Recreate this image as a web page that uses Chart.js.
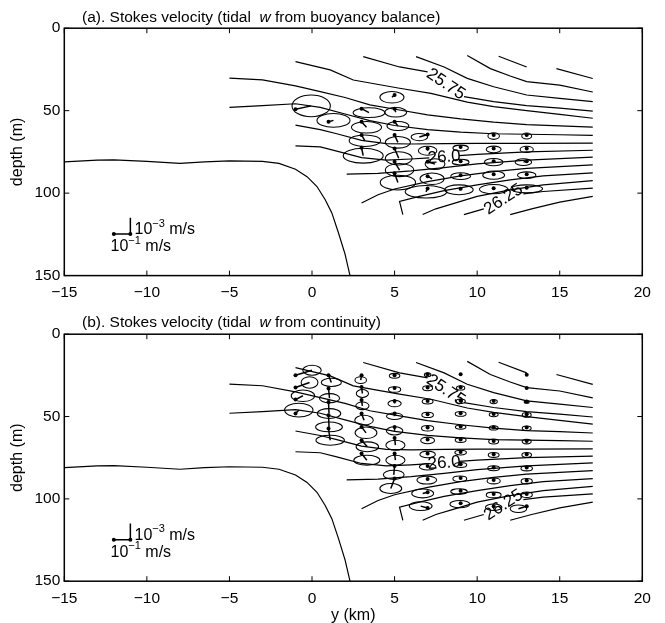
<!DOCTYPE html>
<html>
<head>
<meta charset="utf-8">
<script src="https://cdn.jsdelivr.net/npm/chart.js@4.4.1/dist/chart.umd.min.js"></script>
<style>
  html, body { margin: 0; padding: 0; background: #fff; }
  #wrap { position: relative; width: 665px; height: 623px; }
  canvas { position: absolute; left: 0; }
  #c1 { top: 0; }
  #c2 { top: 306px; }
</style>
</head>
<body>
<div id="wrap">
  <canvas id="c1" width="665" height="306" style="width:665px;height:306px"></canvas>
  <canvas id="c2" width="665" height="317" style="width:665px;height:317px"></canvas>
</div>
<script>
// axes
const xTicks = [-15, -10, -5, 0, 5, 10, 15, 20];
const yTicks = [0, 50, 100, 150];

// isopycnals [km, m]
const c01 = [[11.3, 17], [13, 23.5]];
const c02 = [[14.8, 24.5], [17, 30.5]];
const c03 = [[9.4, 16.5], [10.8, 24.5], [12, 29], [13, 32.4], [15, 34.5], [17, 38.7]];
const c04 = [[6.3, 17.2], [8, 23.5], [9.4, 30.4], [11, 35.5], [13, 40.5], [15, 42.5], [17, 44.5]];
const c05a = [[3.1, 17.2], [5.3, 23.5], [7.0, 26.5]];
const c05b = [[9.2, 41.5], [11, 44.5], [13, 47], [15, 48.5], [17, 50.3]];
const c06 = [[-1, 20.3], [1.1, 25.3], [2.5, 31.4], [5.3, 36.4], [7.2, 39.5], [9.4, 44.8], [11, 47.5], [13, 50], [15, 52.3], [17, 54.6]];
const c07 = [[-5, 30.3], [-3, 31.3], [-1, 35], [0.5, 38.5], [2, 42], [3.5, 46.5], [5.3, 49.6], [7, 52.5], [9, 55], [11, 57], [13, 58.5], [15, 59.2], [17, 60]];
const c08 = [[-5, 48], [-3, 47], [-1, 45.8], [0.5, 48], [2, 52], [3.5, 56], [5, 59], [7, 61.5], [9, 63], [11, 64], [13, 64.3], [15, 64.6], [17, 65]];
const c09 = [[-1, 58.8], [0.5, 61.5], [1.5, 64], [3, 68], [4.5, 70], [6, 70.2], [8, 70], [10, 69.8], [13, 69.8], [17, 69.7]];
const c10a = [[-1, 71.4], [0.5, 72], [1.5, 74.5], [3, 78.5], [4.5, 80], [6, 79.3], [7.1, 78.6]];
const c10b = [[8.9, 77.2], [10, 76.5], [13, 75], [17, 74]];
const c11 = [[2.1, 88.5], [4, 88], [6, 86.5], [8, 84.5], [10, 82.3], [13, 80], [17, 78.2]];
const c12 = [[3, 106], [4, 101], [5, 97.5], [7, 93], [9, 89.5], [11, 87], [13, 85], [17, 82.9]];
const c13 = [[5.5, 113], [5.3, 105], [6.5, 102], [8, 98.5], [10, 95], [12, 92], [14, 89.5], [17, 87.7]];
const c14 = [[6.7, 113], [7.5, 109.5], [8.5, 106.5], [10, 102], [12, 98], [14, 95], [17, 92.4]];
const c15a = [[9.2, 113], [10.4, 109.5]];
const c15b = [[12.8, 100.5], [14, 99], [17, 97]];
const c16 = [[12, 113], [13.3, 109.5], [15, 105.5], [17, 102]];
const contours = [c01, c02, c03, c04, c05a, c05b, c06, c07, c08, c09, c10a, c10b, c11, c12, c13, c14, c15a, c15b, c16];

// bottom topography
const bathy = [[-15, 81], [-13, 80], [-12, 79.8], [-10, 80.8], [-8, 82], [-6.5, 81], [-5, 80.5], [-3, 80.8], [-2, 82], [-1, 85.5],
  [-0.3, 90], [0.3, 96], [0.8, 104], [1.2, 112], [1.6, 124], [2, 137], [2.3, 150]];

// contour labels
const labTxt = ['25.75', '26.0', '26.25'];
const labKm = [8.1, 8.0, 11.6];
const labDepth = [34.0, 78.3, 103.8];
const labAngle = [34, -4, -33];

// scale bar: 1 km = 1e-1 m/s, 10 m = 1e-3 m/s
const barKm = [-12, -11];
const barDepth = [124.8, 115];

// (a) stations: dot km, dot depth, stick dx, stick dz, ellipse semi-axes
const aX = [-1, 1, 3, 3, 3, 3, 5, 5, 5, 5, 5, 5, 5, 7, 7, 7, 7, 7, 9, 9, 9, 9, 11, 11, 11, 11, 11, 13, 13, 13, 13, 13];
const aD = [49.2, 56.7, 48.8, 56.7, 64.8, 72.5, 40.5, 48.8, 56.7, 64.8, 72.9, 81.0, 88.0, 64.4, 72.9, 81.0, 89.7, 97.2,
  72.1, 80.6, 89.1, 97.4, 64.8, 72.9, 80.6, 88.5, 97.0, 64.8, 72.9, 80.6, 88.5, 96.8];
const aU = [0.95, 0.3, 0.45, 0.3, 0.2, 0.1, -0.16, 0.07, 0.2, 0.2, 0.25, 0.3, 0.2, -0.5, 0, 0.45, 0.27, -0.1,
  0, 0, 0, -0.1, 0, 0, 0, 0, 0, 0, 0, -0.2, 0, 0];
const aW = [-2.1, -0.8, 2.4, 3.4, 3.4, 4.8, 1.4, 2.2, 2.6, 4.4, 6.0, 5.0, 5.6, 1.6, 1.4, 1.4, 1.6, 2.0,
  0.6, 0.6, 0.6, 0.6, 0.6, 0.6, 0.6, 0.6, 0.6, 0.6, 0.6, 0.6, 0.6, 0.6];
const aRx = [1.16, 1.0, 0.96, 0.91, 0.95, 1.21, 0.73, 0.66, 0.66, 0.76, 0.81, 0.86, 1.07, 0.5, 0.56, 0.6, 0.73, 1.26,
  0.47, 0.51, 0.6, 0.86, 0.35, 0.45, 0.56, 0.66, 0.86, 0.3, 0.4, 0.5, 0.56, 0.96];
const aRy = [6.6, 4.2, 3.0, 3.5, 3.5, 4.5, 3.5, 2.9, 2.7, 3.5, 4.0, 4.0, 4.5, 2.2, 2.7, 3.3, 3.5, 3.8,
  1.8, 1.7, 2.0, 3.0, 2.0, 2.0, 2.2, 2.5, 2.8, 1.8, 1.9, 2.0, 2.0, 2.4];

// (b) stations
const bX = [-1, -1, -1, -1, 1, 1, 1, 1, 1, 3, 3, 3, 3, 3, 3, 3, 5, 5, 5, 5, 5, 5, 5, 5, 5,
  7, 7, 7, 7, 7, 7, 7, 7, 7, 7, 7, 9, 9, 9, 9, 9, 9, 9, 9, 9, 9, 9,
  11, 11, 11, 11, 11, 11, 11, 11, 11, 13, 13, 13, 13, 13, 13, 13, 13, 13, 13, 13];
const bD = [24.9, 32.4, 39.7, 48.2, 24.9, 33.0, 41.1, 49.2, 57.3, 24.9, 32.0, 40.0, 48.2, 56.3, 64.4, 72.5,
  24.9, 32.6, 40.5, 48.2, 56.3, 63.0, 72.5, 80.0, 87.6,
  24.3, 32.4, 40.5, 48.6, 56.7, 64.0, 72.5, 80.0, 88.0, 96.0, 105.5,
  24.3, 32.2, 40.3, 48.0, 56.0, 63.9, 71.5, 79.0, 87.3, 95.0, 102.6,
  40.5, 48.4, 56.5, 64.8, 72.9, 81.0, 88.6, 97.1, 104.5,
  24.6, 32.7, 40.8, 48.6, 56.7, 64.8, 72.9, 81.0, 88.8, 97.0, 104.5];
const bU = [1.0, 0.85, 0.45, 0.2, 0.17, 0.06, 0.03, 0.03, 0.1, -0.05, 0.05, 0.05, 0.15, 0.27, 0.35, 0.32,
  0, 0, 0, 0, 0, 0.05, 0.05, -0.05, -0.23,
  0, 0, 0, 0, 0, 0, 0, 0, -0.05, -0.3, -0.42,
  0, 0, 0, 0, 0, 0, 0, 0, -0.05, -0.1, -0.05,
  0, 0, 0, 0, 0, 0, 0, 0, 0,
  0, 0, 0, 0, 0, 0, 0, 0, 0, 0, -0.5];
const bW = [-3.0, -3.1, -2.3, -2.1, 4.4, 5.9, 7.1, 7.1, 7.1, 3.0, 4.0, 3.5, 4.0, 3.6, 4.0, 4.0,
  0.4, 1.0, 1.6, 1.6, 2.4, 4.4, 4.0, 5.4, 6.1,
  0.4, 0.4, 0.4, 0.4, 0.4, 0.5, 0.5, 0.5, 0.6, 0.7, -1.1,
  0, 0.4, 0.4, 0.4, 0.4, 0.4, 0.4, 0.4, 0.5, 0.6, 0.6,
  0.4, 0.4, 0.4, 0.4, 0.4, 0.4, 0.5, 0.5, 0.6,
  0, 0, 0.3, 0.4, 0.4, 0.4, 0.4, 0.5, 0.5, 0.5, 1.5];
const bRx = [0.56, 0.51, 0.71, 0.86, 0.61, 0.61, 0.71, 0.81, 0.86, 0.35, 0.37, 0.4, 0.56, 0.66, 0.68, 0.79,
  0.32, 0.37, 0.4, 0.49, 0.5, 0.58, 0.58, 0.63, 0.66,
  0.2, 0.3, 0.33, 0.35, 0.37, 0.42, 0.47, 0.5, 0.6, 0.66, 0.69,
  0, 0.25, 0.28, 0.33, 0.32, 0.33, 0.35, 0.37, 0.42, 0.5, 0.6,
  0.22, 0.27, 0.27, 0.3, 0.33, 0.36, 0.4, 0.45, 0.5,
  0, 0, 0.15, 0.27, 0.27, 0.27, 0.29, 0.35, 0.34, 0.34, 0.5];
const bRy = [3.0, 3.5, 3.5, 4.2, 2.5, 2.8, 3.0, 3.0, 3.0, 2.0, 2.4, 2.3, 3.0, 3.5, 3.0, 3.0,
  1.5, 1.7, 2.0, 2.0, 2.5, 3.0, 3.0, 2.8, 3.0,
  1.2, 1.5, 1.5, 1.6, 1.7, 2.0, 2.0, 2.0, 2.4, 2.7, 2.7,
  0, 1.3, 1.3, 1.4, 1.3, 1.5, 1.4, 1.5, 1.7, 1.7, 2.2,
  1.3, 1.3, 1.3, 1.5, 1.5, 1.5, 1.8, 1.7, 2.0,
  0, 0, 0.8, 1.4, 1.4, 1.4, 1.4, 1.5, 1.7, 1.7, 2.3];

const FONT = '"Liberation Sans", Arial, Helvetica, sans-serif';
const minus = v => String(v).replace('-', '\u2212');

function runs(ctx, parts, x, y) {
  parts.forEach(p => {
    ctx.font = p[1];
    ctx.fillText(p[0], x, y + (p[2] || 0));
    x += ctx.measureText(p[0]).width;
  });
}

const figPlugin = {
  id: 'fig',
  afterDraw(chart, args, o) {
    const ctx = chart.ctx, a = chart.chartArea;
    const sx = chart.scales.x, sy = chart.scales.y;
    const X = v => sx.getPixelForValue(v), Y = v => sy.getPixelForValue(v);
    ctx.save();
    ctx.strokeStyle = '#000';
    ctx.fillStyle = '#000';

    // ellipses + sticks
    const s = o.st;
    for (let i = 0; i < s.x.length; i++) {
      const cx = X(s.x[i] + s.u[i]), cy = Y(s.d[i] + s.w[i]);
      const rx = X(s.rx[i]) - X(0), ry = Y(s.ry[i]) - Y(0);
      ctx.lineWidth = 1.05;
      if (rx > 0 && ry > 0) {
        ctx.beginPath();
        ctx.ellipse(cx, cy, rx, ry, 0, 0, 2 * Math.PI);
        ctx.stroke();
      }
      const dx = X(s.x[i]), dy = Y(s.d[i]);
      ctx.lineWidth = 1.5;
      ctx.beginPath(); ctx.moveTo(dx, dy); ctx.lineTo(cx, cy); ctx.stroke();
      ctx.beginPath(); ctx.arc(dx, dy, 2, 0, 2 * Math.PI); ctx.fill();
    }

    // contour labels
    ctx.font = '17px ' + FONT;
    ctx.textAlign = 'center';
    ctx.textBaseline = 'middle';
    labTxt.forEach((t, i) => {
      ctx.save();
      ctx.translate(X(labKm[i]), Y(labDepth[i]));
      ctx.rotate(labAngle[i] * Math.PI / 180);
      ctx.fillText(t, 0, 0);
      ctx.restore();
    });

    // scale bar
    ctx.lineWidth = 1.5;
    ctx.beginPath();
    ctx.moveTo(X(barKm[0]), Y(barDepth[0]));
    ctx.lineTo(X(barKm[1]), Y(barDepth[0]));
    ctx.lineTo(X(barKm[1]), Y(barDepth[1]));
    ctx.stroke();
    barKm.forEach(k => { ctx.beginPath(); ctx.arc(X(k), Y(barDepth[0]), 2, 0, 2 * Math.PI); ctx.fill(); });
    ctx.textAlign = 'left';
    const f16 = '16px ' + FONT, f11 = '11px ' + FONT;
    runs(ctx, [['10', f16], ['\u22123', f11, -6], [' m/s', f16]], X(-10.75), Y(122.2));
    runs(ctx, [['10', f16], ['\u22121', f11, -6], [' m/s', f16]], X(-12.2), Y(132.4));

    // frame and inward ticks
    ctx.lineWidth = 1.5;
    ctx.strokeRect(a.left, a.top, a.right - a.left, a.bottom - a.top);
    ctx.lineWidth = 1;
    ctx.beginPath();
    xTicks.forEach(v => {
      const p = X(v);
      ctx.moveTo(p, a.bottom); ctx.lineTo(p, a.bottom - 5);
      ctx.moveTo(p, a.top); ctx.lineTo(p, a.top + 5);
    });
    yTicks.forEach(v => {
      const p = Y(v);
      ctx.moveTo(a.left, p); ctx.lineTo(a.left + 5, p);
      ctx.moveTo(a.right, p); ctx.lineTo(a.right - 5, p);
    });
    ctx.stroke();

    // titles
    ctx.textBaseline = 'middle';
    ctx.textAlign = 'left';
    runs(ctx, o.title, 82, o.titleY);
    ctx.font = '16px ' + FONT;
    ctx.save();
    ctx.translate(17.5, (a.top + a.bottom) / 2);
    ctx.rotate(-Math.PI / 2);
    ctx.textAlign = 'center';
    ctx.fillText('depth (m)', 0, 0);
    ctx.restore();
    if (o.xlabel) {
      ctx.textAlign = 'center';
      ctx.fillText(o.xlabel, (a.left + a.right) / 2, a.bottom + 34.5);
    }
    ctx.restore();
  }
};

function lineSet(pts, w) {
  return {
    data: pts.map(p => ({ x: p[0], y: p[1] })),
    showLine: true, pointRadius: 0, borderColor: '#000', borderWidth: w, tension: 0
  };
}

function makeChart(id, st, title, titleY, xlabel) {
  return new Chart(document.getElementById(id), {
    type: 'scatter',
    data: { datasets: contours.map(c => lineSet(c, 1.2)).concat([lineSet(bathy, 1.2)]) },
    options: {
      responsive: false,
      animation: false,
      events: [],
      layout: { padding: { left: 0, right: 22.7, top: 28.2, bottom: 0 } },
      scales: {
        x: {
          type: 'linear', min: -15, max: 20,
          grid: { display: false, drawTicks: false },
          border: { display: false },
          afterBuildTicks: s => { s.ticks = xTicks.map(v => ({ value: v })); },
          afterFit: s => { s.height = titleY > 17.5 ? 30.4 : 41.8; },
          ticks: { autoSkip: false, maxRotation: 0, padding: 8, color: '#000',
            font: { family: FONT, size: 15.5 }, callback: v => minus(v) }
        },
        y: {
          type: 'linear', min: 0, max: 150, reverse: true,
          grid: { display: false, drawTicks: false },
          border: { display: false },
          afterBuildTicks: s => { s.ticks = yTicks.map(v => ({ value: v })); },
          afterFit: s => { s.width = 64.3; },
          ticks: { autoSkip: false, padding: 4, color: '#000',
            font: { family: FONT, size: 15.5 }, callback: v => minus(v) }
        }
      },
      plugins: {
        legend: { display: false },
        tooltip: { enabled: false },
        fig: { st: st, title: title, titleY: titleY, xlabel: xlabel }
      }
    },
    plugins: [figPlugin]
  });
}

const f15 = '15.5px ' + FONT, f15i = 'italic 15.5px ' + FONT;
makeChart('c1', { x: aX, d: aD, u: aU, w: aW, rx: aRx, ry: aRy },
  [['(a). Stokes velocity (tidal  ', f15], ['w', f15i], [' from buoyancy balance)', f15]], 18, null);
makeChart('c2', { x: bX, d: bD, u: bU, w: bW, rx: bRx, ry: bRy },
  [['(b). Stokes velocity (tidal  ', f15], ['w', f15i], [' from continuity)', f15]], 16.7, 'y (km)');
</script>
</body>
</html>
